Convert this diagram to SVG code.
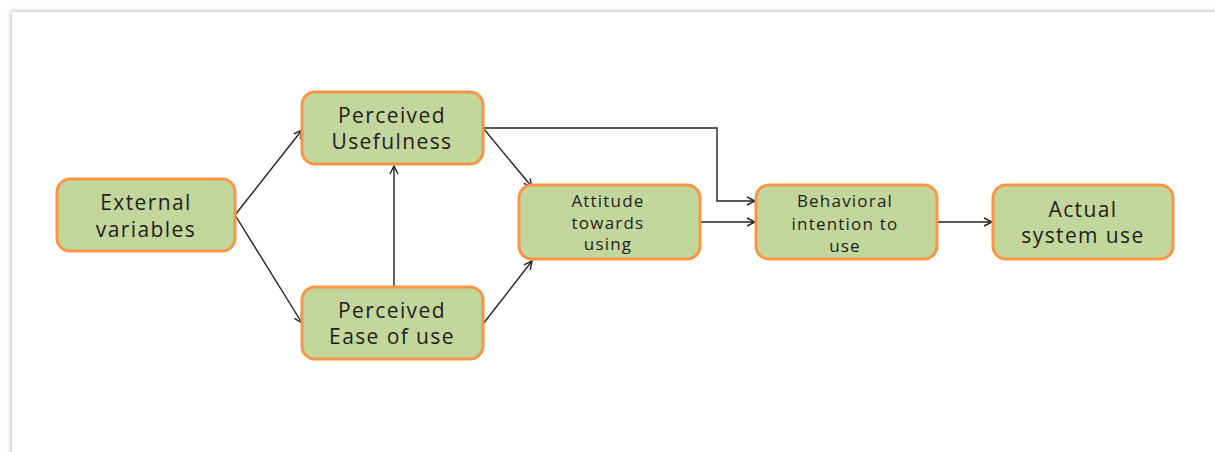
<svg xmlns="http://www.w3.org/2000/svg" width="1215" height="452" viewBox="0 0 1215 452">
  <defs>
    <filter id="sh" x="-5%" y="-5%" width="110%" height="110%">
      <feGaussianBlur stdDeviation="2"/>
    </filter>
    <marker id="ah" viewBox="0 0 10 10" refX="9" refY="5" markerWidth="10" markerHeight="10" markerUnits="userSpaceOnUse" orient="auto">
      <path d="M1,1 L9,5 L1,9" fill="none" stroke="#222" stroke-width="1.4"/>
    </marker>
    <style>
      .box { fill: #c3d69b; stroke: #f79646; stroke-width: 3; }
      .t { font-family: "Open Sans", Lato, sans-serif; font-weight: 500; fill: #1e1e1e; text-anchor: middle; }
      .big { font-size: 21px; letter-spacing: 1.4px; }
      .sm { font-size: 17px; letter-spacing: 1.2px; }
      .c { fill: none; stroke: #222; stroke-width: 1.4; marker-end: url(#ah); }
    </style>
  </defs>
  <rect width="1215" height="452" fill="#ffffff"/>
  <rect x="11" y="11" width="1220" height="460" fill="#bdbdbd" filter="url(#sh)"/>
  <rect x="12" y="12" width="1220" height="460" fill="#ffffff"/>

  <g id="connectors">
    <path class="c" d="M235,215 L302,130"/>
    <path class="c" d="M235,215 L302,323"/>
    <path class="c" d="M394,287 L394,166"/>
    <path class="c" d="M483,128 L532,187"/>
    <path class="c" d="M483,324 L532,261"/>
    <path class="c" d="M483,128 L717,128 L717,201 L755,201"/>
    <path class="c" d="M700,222 L755,222"/>
    <path class="c" d="M937,222 L992,222"/>
  </g>

  <g id="external">
    <rect class="box" x="57" y="179" width="178" height="72" rx="13"/>
    <text class="t big" x="146" y="210">External</text>
    <text class="t big" x="146" y="237">variables</text>
  </g>
  <g id="usefulness">
    <rect class="box" x="302" y="92" width="181" height="72" rx="13"/>
    <text class="t big" x="392" y="123">Perceived</text>
    <text class="t big" x="392" y="149">Usefulness</text>
  </g>
  <g id="ease">
    <rect class="box" x="302" y="287" width="181" height="72" rx="13"/>
    <text class="t big" x="392" y="318">Perceived</text>
    <text class="t big" x="392" y="344">Ease of use</text>
  </g>
  <g id="attitude">
    <rect class="box" x="519" y="185" width="181" height="74" rx="13"/>
    <text class="t sm" x="608" y="207">Attitude</text>
    <text class="t sm" x="608" y="229">towards</text>
    <text class="t sm" x="608" y="250">using</text>
  </g>
  <g id="intention">
    <rect class="box" x="756" y="185" width="181" height="74" rx="13"/>
    <text class="t sm" x="845" y="207">Behavioral</text>
    <text class="t sm" x="845" y="230">intention to</text>
    <text class="t sm" x="845" y="252">use</text>
  </g>
  <g id="actual">
    <rect class="box" x="993" y="185" width="180" height="74" rx="13"/>
    <text class="t big" x="1083" y="217">Actual</text>
    <text class="t big" x="1083" y="243">system use</text>
  </g>
</svg>
